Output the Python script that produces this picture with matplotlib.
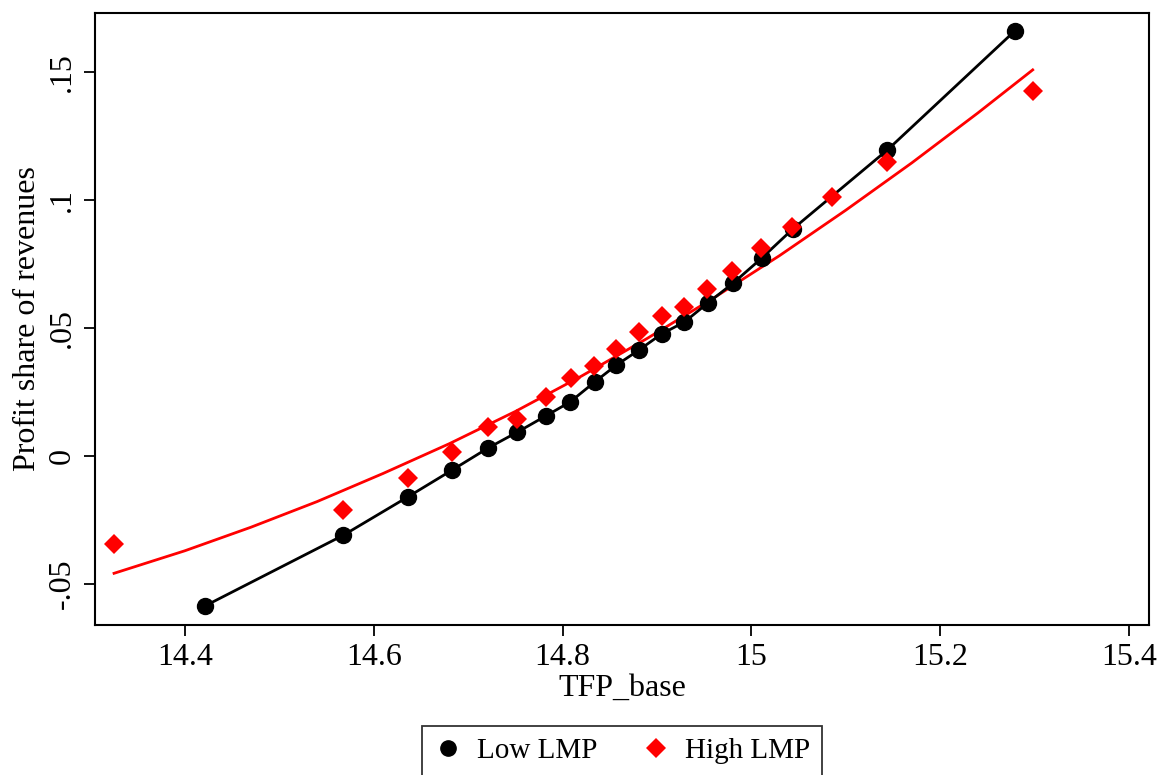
import matplotlib.pyplot as plt
from matplotlib.lines import Line2D

plt.rcParams["font.family"] = ["Liberation Serif", "DejaVu Serif"]

# Low LMP bins (black circles, connected)
low_x = [14.421, 14.568, 14.636, 14.683, 14.721, 14.752, 14.782, 14.808, 14.834,
         14.857, 14.881, 14.905, 14.929, 14.954, 14.981, 15.011, 15.044, 15.144, 15.279]
low_y = [-0.0586, -0.0309, -0.0160, -0.0055, 0.0031, 0.0093, 0.0156, 0.0211, 0.0289,
         0.0355, 0.0414, 0.0477, 0.0523, 0.0598, 0.0676, 0.0773, 0.0887, 0.1195, 0.1660]

# High LMP bins (red diamonds)
high_x = [14.325, 14.568, 14.636, 14.683, 14.721, 14.752, 14.782, 14.809, 14.833, 14.857,
          14.881, 14.905, 14.929, 14.953, 14.980, 15.010, 15.043, 15.085, 15.144, 15.298]
high_y = [-0.0344, -0.0211, -0.0086, 0.0016, 0.0113, 0.0145, 0.0230, 0.0305, 0.0352, 0.0418,
          0.0484, 0.0547, 0.0582, 0.0652, 0.0723, 0.0812, 0.0893, 0.1012, 0.1148, 0.1426]

# quadratic fit line for High LMP
fit_x = [14.325, 14.40, 14.47, 14.54, 14.61, 14.68, 14.75, 14.82, 14.89, 14.96,
         15.03, 15.10, 15.17, 15.24, 15.298]
fit_y = [-0.0458, -0.0370, -0.0278, -0.0178, -0.0068, 0.0048, 0.0174, 0.0312, 0.0460,
         0.0617, 0.0783, 0.0960, 0.1145, 0.1340, 0.1508]

fig = plt.figure(figsize=(11.61, 7.75), dpi=100)
ax = fig.add_axes([0.0818, 0.1935, 0.9079, 0.7897])

ax.plot(fit_x, fit_y, color="red", linewidth=2, zorder=2)
ax.plot(low_x, low_y, color="black", linewidth=2, zorder=3)
ax.plot(low_x, low_y, linestyle="none", marker="o", markersize=11.5,
        color="black", zorder=4)
ax.plot(high_x, high_y, linestyle="none", marker="D", markersize=10.5,
        color="red", markeredgewidth=0, zorder=5)

ax.set_xlim(14.3048, 15.4212)
ax.set_ylim(-0.066, 0.173)
ax.set_xticks([14.4, 14.6, 14.8, 15.0, 15.2, 15.4])
ax.set_xticklabels(["14.4", "14.6", "14.8", "15", "15.2", "15.4"])
ax.set_yticks([-0.05, 0, 0.05, 0.1, 0.15])
ax.set_yticklabels(["-.05", "0", ".05", ".1", ".15"], rotation=90, va="center")

ax.tick_params(direction="out", length=8, width=1.3, labelsize=23, pad=5)
for s in ax.spines.values():
    s.set_linewidth(1.5)

ax.set_xlabel("TFP_base", fontsize=23, labelpad=1)
ax.set_ylabel("Profit share of revenues", fontsize=23, labelpad=4)

handles = [
    Line2D([], [], linestyle="none", marker="o", markersize=11, color="black"),
    Line2D([], [], linestyle="none", marker="D", markersize=10, color="red",
           markeredgewidth=0),
]
leg = fig.legend(handles, ["Low LMP", "High LMP"], loc="upper center",
                 bbox_to_anchor=(0.5357, 1 - 726 / 775), ncol=2, fontsize=21,
                 frameon=True, fancybox=False, edgecolor="black",
                 handletextpad=0.5, columnspacing=1.5, borderpad=0.4,
                 borderaxespad=0, handlelength=1.0)
leg.get_frame().set_linewidth(1.3)

fig.savefig("out.png", dpi=100)
